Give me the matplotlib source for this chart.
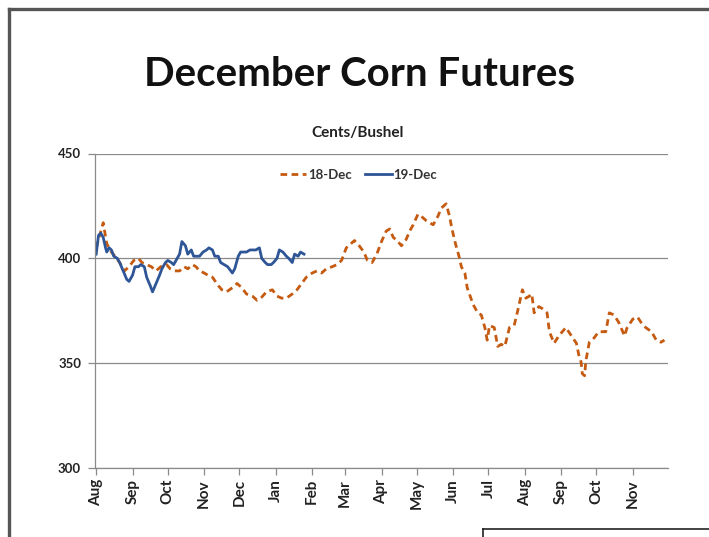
import matplotlib
matplotlib.use("Agg")
import matplotlib.pyplot as plt
import matplotlib.dates as mdates
from matplotlib.lines import Line2D
import pandas as pd

plt.rcParams["font.family"] = ["Lato", "DejaVu Sans"]

# Season start; both contracts are plotted on the same Aug-Nov seasonal axis
season_start = pd.Timestamp("2017-08-01")

# 18-Dec contract: days after season start, settle price (cents/bushel)
days_18 = [0, 3, 6, 9, 13, 16, 20, 24, 28, 32, 36, 39, 43, 47, 51, 55, 60, 63, 67, 71,
           75, 78, 82, 85, 88, 92, 95, 99, 104, 107, 111, 116, 120, 124, 128, 133, 137, 141,
           145, 150, 154, 158, 162, 167, 171, 175, 179, 184, 188, 192, 196, 201, 205, 209,
           213, 217, 220, 224, 228, 231, 235, 239, 243, 247, 250, 253, 257, 260, 264, 267,
           270, 274, 277, 281, 284, 287, 291, 294, 298, 301, 303, 306, 309, 311, 314, 316,
           321, 325, 328, 331, 333, 335, 339, 342, 345, 348, 352, 356, 359, 363, 366, 369,
           371, 373, 377, 380, 384, 386, 390, 394, 400, 406, 409, 411, 413, 414, 416, 417,
           420, 424, 428, 434, 437, 441, 445, 450, 452, 457, 461, 464, 468, 473, 477, 481, 484]
price_18 = [405, 411, 417, 407, 403, 401, 398, 394, 396, 399, 400, 398, 397, 396, 394, 396,
            397, 395, 394, 394, 396, 395, 397, 396, 394, 393, 392, 391, 387, 385, 384, 386,
            388, 386, 383, 382, 380, 381.5, 384, 385, 382, 381, 381, 383, 385, 388, 391, 393,
            394, 393, 395, 396, 397, 399, 405, 407, 408.5, 406, 403, 399, 398, 402, 408, 413,
            414, 410, 408, 406, 409, 413, 416, 421, 420, 418, 417, 416, 420, 424, 426, 420,
            414, 407, 401, 396, 393, 386, 378, 374, 373, 367, 361, 368, 367, 358, 359, 358,
            367, 368, 375, 385, 381, 382, 383, 374, 377, 376, 374, 365, 359.5, 363, 367, 362,
            359.5, 354, 350.5, 345, 344, 351, 360, 362, 365, 365, 374, 373, 369.5, 363, 366.7,
            371, 372, 369.5, 367, 365, 361, 360, 361]

# 19-Dec contract over its first months of trading
days_19 = [0, 2, 4, 6, 8, 9, 11, 13, 15, 18, 20, 23, 26, 28, 31, 33, 36, 38, 41, 43, 46,
           48, 51, 54, 56, 59, 61, 64, 66, 69, 71, 73, 76, 78, 81, 83, 86, 88, 91, 94, 96,
           99, 101, 104, 106, 109, 112, 116, 118, 121, 123, 126, 128, 131, 133, 136, 139,
           141, 144, 146, 149, 151, 154, 156, 159, 162, 164, 167, 169, 172, 174, 177]
price_19 = [402, 411, 412, 410, 405, 403, 405, 404, 401, 400, 398, 394, 390, 389, 392, 396,
            396, 397, 396, 391, 387, 384, 388, 392, 395, 398, 399, 398, 397, 400, 402, 408,
            406, 402, 404, 401, 401, 401, 403, 404, 405, 404, 401, 401, 398, 397, 396, 393,
            395, 401, 403, 403, 403, 404, 404, 404, 405, 400, 398, 397, 397, 398, 400, 404,
            403, 401, 400, 398, 402, 401, 403, 402]

month_ticks = pd.date_range("2017-08-01", "2018-11-01", freq="MS")
y_ticks = [300, 350, 400, 450]

dates_18 = season_start + pd.to_timedelta(days_18, unit="D")
dates_19 = season_start + pd.to_timedelta(days_19, unit="D")

ORANGE = "#c55a11"
BLUE = "#2e5596"
GRID = "#8a8a8a"
TXT = "#222222"

fig = plt.figure(figsize=(7.09, 5.37), dpi=100)
fig.patch.set_facecolor("white")
ax = fig.add_axes([95 / 709, 1 - 468 / 537, (668 - 95) / 709, (468 - 153.5) / 537])

ax.plot(dates_18, price_18, color=ORANGE, lw=2.0, linestyle=(0, (2.4, 1.6)), label="18-Dec")
ax.plot(dates_19, price_19, color=BLUE, lw=2.0, label="19-Dec")

ax.set_ylim(300, 450)
ax.set_xlim(season_start - pd.Timedelta(days=1), season_start + pd.Timedelta(days=487))
ax.set_yticks(y_ticks)
ax.set_xticks(month_ticks)
ax.xaxis.set_major_formatter(mdates.DateFormatter("%b"))

ax.yaxis.grid(True, color=GRID, lw=0.9)
ax.set_axisbelow(True)
for side in ("top", "right"):
    ax.spines[side].set_visible(False)
for side in ("left", "bottom"):
    ax.spines[side].set_color(GRID)
    ax.spines[side].set_linewidth(0.9)

ax.tick_params(axis="y", length=5, width=0.9, color=GRID, pad=5, labelsize=9.5, labelcolor=TXT)
ax.tick_params(axis="x", length=5, width=0.9, color=GRID, pad=3, labelsize=11,
               labelcolor=TXT, labelrotation=90)
for lbl in ax.get_xticklabels() + ax.get_yticklabels():
    lbl.set_fontweight("bold")

leg = ax.legend(loc="upper center", bbox_to_anchor=(0.46, 0.99), ncol=2, frameon=False,
                handlelength=2.0, handletextpad=0.15, columnspacing=1.0,
                prop={"weight": "bold", "size": 9.5})
for t in leg.get_texts():
    t.set_color("#333333")

fig.text(0.507, 1 - 75 / 537, "December Corn Futures", ha="center", va="center",
         fontsize=29, fontweight="bold", color="#111111")
fig.text(0.505, 1 - 133 / 537, "Cents/Bushel", ha="center", va="center",
         fontsize=11, fontweight="bold", color="#222222")

# Surrounding frame lines
fig.add_artist(Line2D([9 / 709, 1], [1 - 9 / 537, 1 - 9 / 537], transform=fig.transFigure,
                      color="#555555", lw=2.4))
fig.add_artist(Line2D([9 / 709, 9 / 709], [0, 1 - 9 / 537], transform=fig.transFigure,
                      color="#555555", lw=2.4))
fig.add_artist(Line2D([483 / 709, 1], [1 - 529 / 537, 1 - 529 / 537], transform=fig.transFigure,
                      color="#222222", lw=1.2))
fig.add_artist(Line2D([483 / 709, 483 / 709], [0, 1 - 529 / 537], transform=fig.transFigure,
                      color="#222222", lw=1.2))

fig.savefig("out.png", dpi=100)
